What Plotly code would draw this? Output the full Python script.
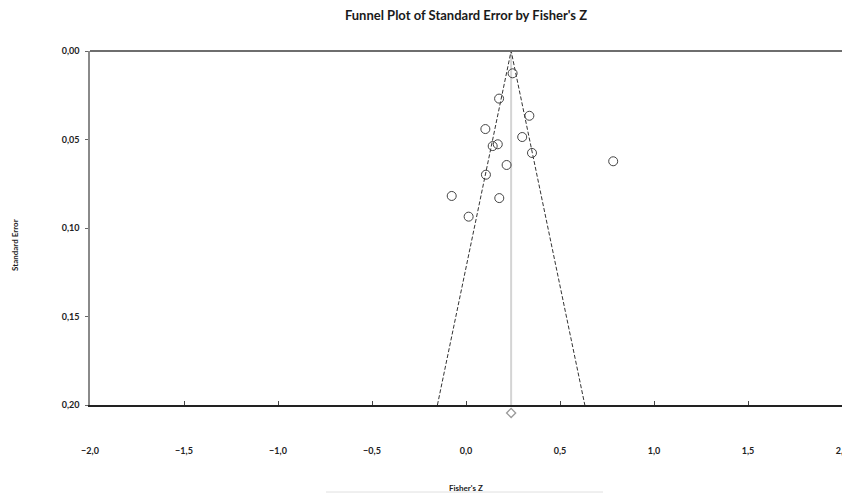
import plotly.graph_objects as go

# Study data (Fisher's Z, Standard Error)
fisher_z = [0.248, 0.176, 0.337, 0.103, 0.299, 0.142, 0.169, 0.351, 0.783, 0.216, 0.106, -0.076, 0.177, 0.014]
std_err = [0.0126, 0.0269, 0.0366, 0.0441, 0.0486, 0.0537, 0.0527, 0.0576, 0.0623, 0.0644, 0.0699, 0.0819, 0.0831, 0.0936]

pooled_z = 0.24
pooled_marker_se = 0.2045
se_max = 0.20
z_crit = 1.96

x_ticks = [-2.0, -1.5, -1.0, -0.5, 0.0, 0.5, 1.0, 1.5, 2.0]
y_ticks = [0.00, 0.05, 0.10, 0.15, 0.20]

FONT = "Lato"

# layout geometry (pixels)
W, H = 842, 493
TOP, AXIS_BOTTOM, PAPER_BOTTOM, LEFT = 51, 405, 433, 90
PH = PAPER_BOTTOM - TOP
PW = W - LEFT


def py(y_px):
    return (PAPER_BOTTOM - y_px) / PH


def px(x_px):
    return (x_px - LEFT) / PW


main_dom_bottom = py(AXIS_BOTTOM)
ext_se = se_max * PH / (AXIS_BOTTOM - TOP)  # same scale extended to paper bottom

fig = go.Figure()

# pooled estimate vertical line
fig.add_trace(go.Scatter(
    x=[pooled_z, pooled_z], y=[0, se_max], mode="lines",
    line=dict(color="#d4d4d4", width=2), hoverinfo="skip", showlegend=False))

# funnel limits
fig.add_trace(go.Scatter(
    x=[pooled_z - z_crit * se_max, pooled_z, pooled_z + z_crit * se_max],
    y=[se_max, 0, se_max], mode="lines",
    line=dict(color="#333333", width=1, dash="4px,2px"), hoverinfo="skip", showlegend=False))

# studies
fig.add_trace(go.Scatter(
    x=fisher_z, y=std_err, mode="markers",
    marker=dict(symbol="circle-open", size=9, color="#444444", line=dict(width=1)),
    showlegend=False))

# pooled marker below axis (on an extended invisible axis with the same scale)
fig.add_trace(go.Scatter(
    x=[pooled_z], y=[pooled_marker_se], mode="markers", yaxis="y2",
    marker=dict(symbol="diamond-open", size=7, color="#9a9a9a", line=dict(width=1.3)),
    showlegend=False))

fig.update_layout(
    width=W, height=H,
    margin=dict(l=LEFT, r=0, t=TOP, b=H - PAPER_BOTTOM, autoexpand=False),
    paper_bgcolor="white", plot_bgcolor="rgba(0,0,0,0)",
    separators=",.",
    title=dict(text="<b>Funnel Plot of Standard Error by Fisher's Z</b>",
               x=466 / W, xanchor="center", y=1 - 15 / H, yanchor="middle",
               font=dict(family=FONT, size=13, color="#1a1a1a")),
    xaxis=dict(range=[-2, 2], tickvals=x_ticks, tickformat=".1f",
               anchor="y", showgrid=False, zeroline=False, automargin=False,
               showline=True, linecolor="#222222", linewidth=1.5,
               ticks="inside", ticklen=4, tickcolor="#444444",
               ticklabelstandoff=36, ticklabeloverflow="allow",
               tickfont=dict(family=FONT, size=9, color="#222222", weight="bold")),
    yaxis=dict(range=[se_max, 0.0], domain=[main_dom_bottom, 1], tickvals=y_ticks, tickformat=".2f",
               showgrid=False, zeroline=False, automargin=False,
               showline=True, linecolor="#8a8a8a", linewidth=1.5,
               ticks="outside", ticklen=3, tickcolor="#666666",
               ticklabelstandoff=4,
               tickfont=dict(family=FONT, size=9, color="#222222", weight="bold")),
    yaxis2=dict(range=[ext_se, 0.0], domain=[0, 1], anchor="x", visible=False,
                showgrid=False, zeroline=False),
)

# top border line
fig.add_shape(type="line", xref="paper", yref="paper", x0=0, x1=1, y0=1, y1=1,
              line=dict(color="#6e6e6e", width=2))

# axis titles
fig.add_annotation(text="<b>Fisher's Z</b>", xref="paper", yref="paper",
                   x=px(466), y=py(488),
                   showarrow=False, xanchor="center", yanchor="middle",
                   font=dict(family=FONT, size=8, color="#222222"))
fig.add_shape(type="line", xref="paper", yref="paper",
              x0=px(326), x1=px(603), y0=py(492), y1=py(492),
              line=dict(color="#e0e0e0", width=1))
fig.add_annotation(text="<b>Standard Error</b>", xref="paper", yref="paper",
                   x=px(15), y=py(245), textangle=-90,
                   showarrow=False, xanchor="center", yanchor="middle",
                   font=dict(family=FONT, size=8, color="#222222"))

fig.write_html("out.html", config={"displayModeBar": False},
               post_script="document.body.style.margin='0';document.body.style.overflow='hidden';")
